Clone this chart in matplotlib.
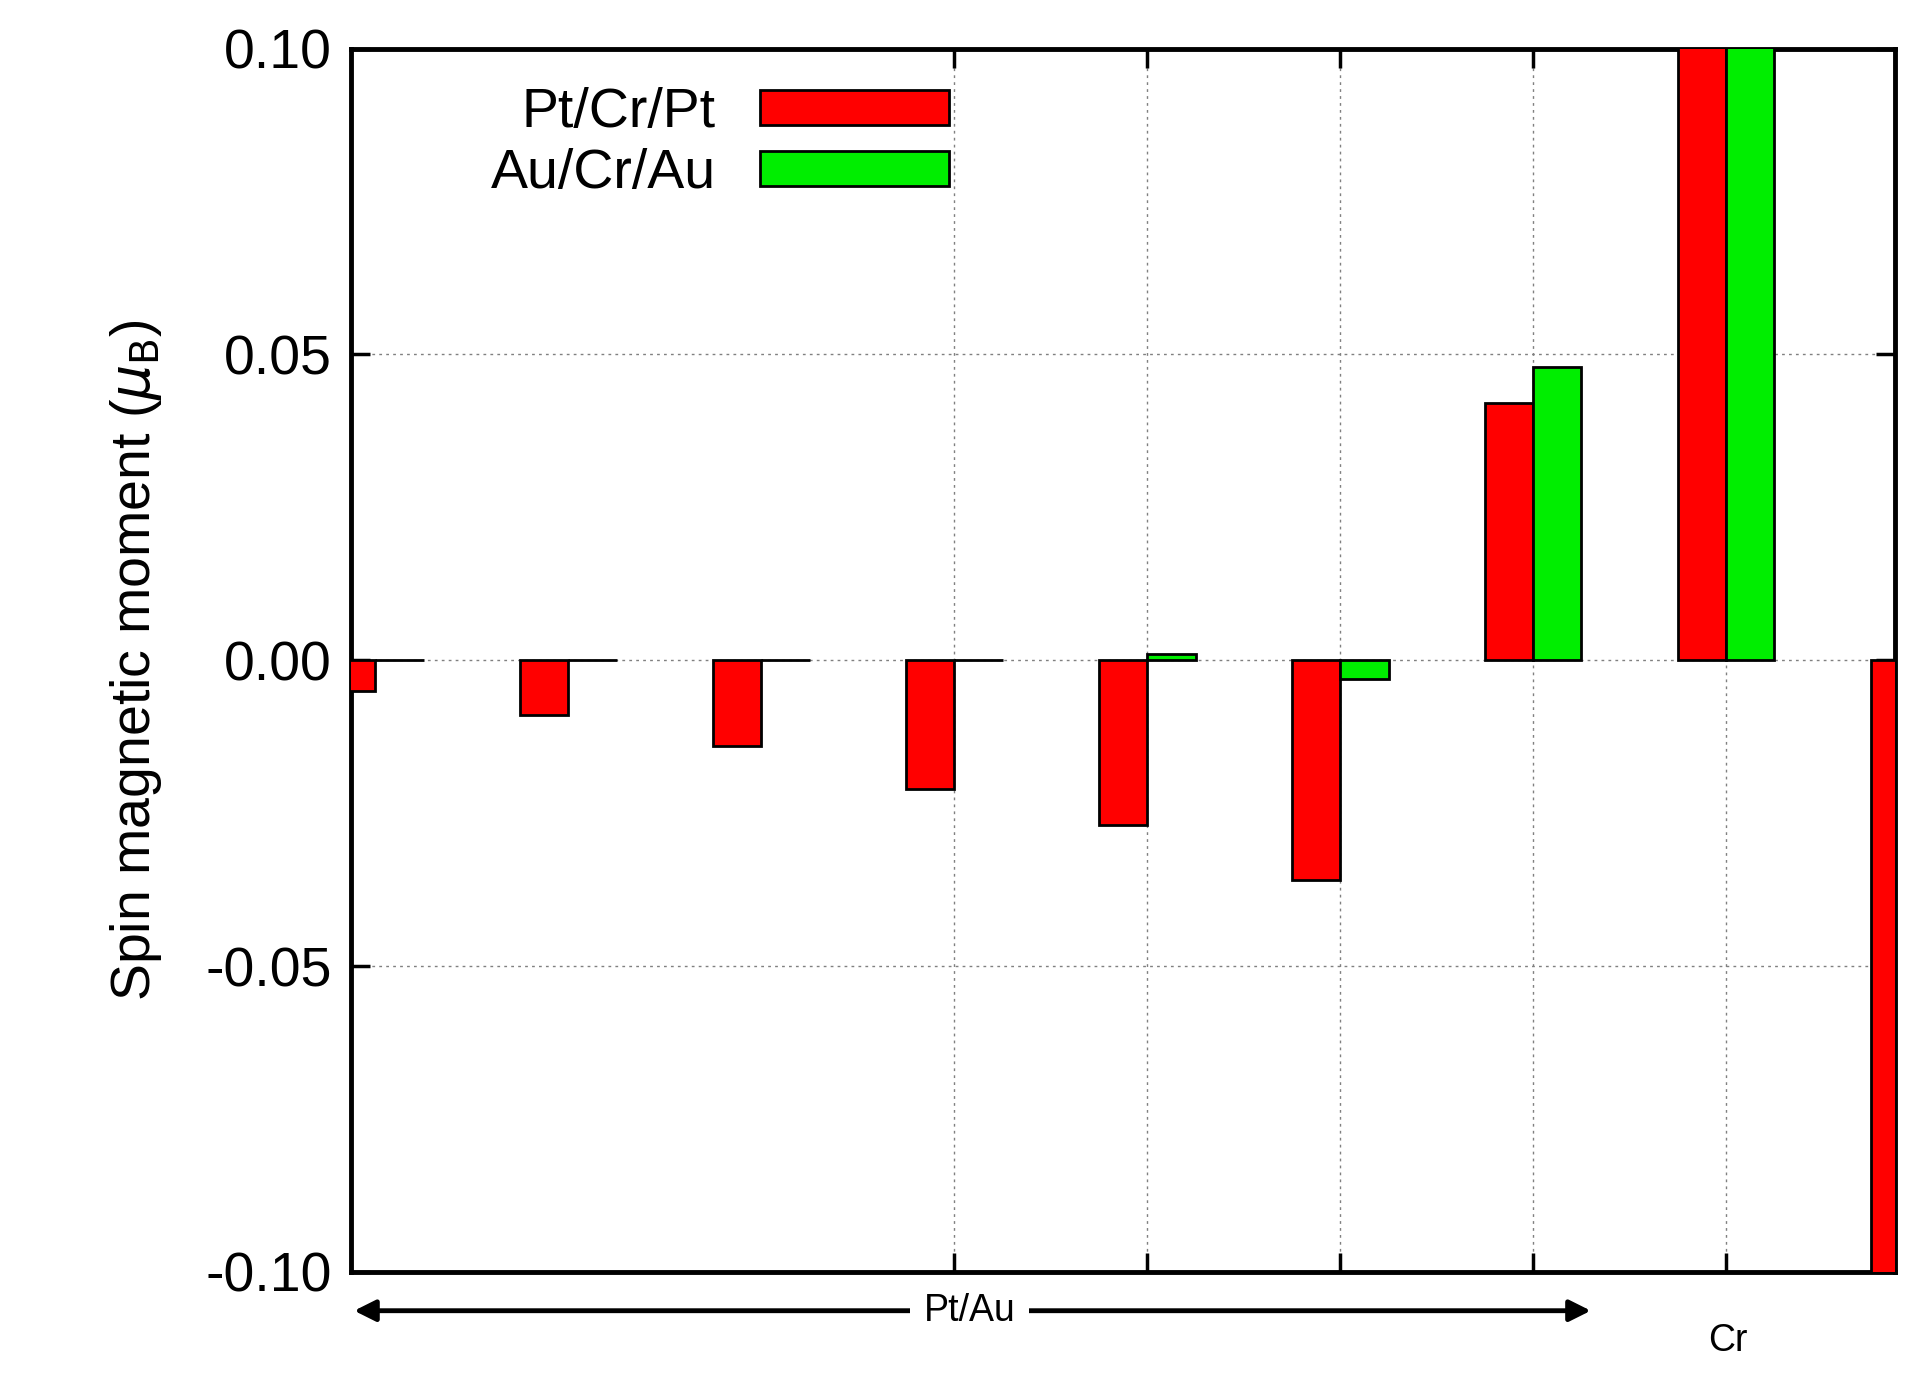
import matplotlib
matplotlib.use("Agg")
import matplotlib.pyplot as plt
import numpy as np

positions = [0, 1, 2, 3, 4, 5, 6, 7, 8]
pt_cr_pt = [-0.005, -0.009, -0.014, -0.021, -0.027, -0.036, 0.042, 0.5, -0.5]
au_cr_au = [0.0, 0.0, 0.0, 0.0, 0.001, -0.003, 0.048, 0.5, 0.0]
yticks = [-0.10, -0.05, 0.00, 0.05, 0.10]
xticks = [3, 4, 5, 6, 7]

plt.rcParams['font.family'] = ['Liberation Sans', 'DejaVu Sans']
fig = plt.figure(figsize=(19.2, 13.87), dpi=100)
ax = fig.add_axes([0.183, 0.083, 0.804, 0.882])
x = np.array(positions, dtype=float)
w = 0.25
ax.bar(x - w/2, pt_cr_pt, w, color='#ff0000', edgecolor='black', linewidth=2, label='Pt/Cr/Pt', zorder=3)
ax.bar(x + w/2, au_cr_au, w, color='#00ee00', edgecolor='black', linewidth=2, label='Au/Cr/Au', zorder=3)
ax.set_xlim(-0.125, 7.875)
ax.set_ylim(-0.1, 0.1)
ax.set_yticks(yticks)
ax.set_yticklabels([f"{v:.2f}" for v in yticks])
ax.set_xticks(xticks)
ax.set_xticklabels([])
ax.grid(True, color='gray', linestyle=(0, (2, 3)), linewidth=1, zorder=0)
ax.tick_params(direction='in', length=14, width=2.5, top=True, right=True, labelsize=40, pad=14)
for s in ax.spines.values():
    s.set_linewidth(3.5)
ax.set_ylabel(r'Spin magnetic moment ($\mu_\mathrm{B}$)', fontsize=40, labelpad=30)
leg = ax.legend(loc='upper left', bbox_to_anchor=(0.065, 1.0), markerfirst=False, frameon=False,
                fontsize=40, handlelength=3.4, handleheight=0.6, labelspacing=0.15, borderaxespad=0.3)
fig.patches.append(matplotlib.patches.FancyArrowPatch((0.183, 0.055), (0.83, 0.055), transform=fig.transFigure,
                   arrowstyle='<|-|>', mutation_scale=32, linewidth=3.5, color='black'))
fig.text(0.505, 0.055, 'Pt/Au', ha='center', va='center', fontsize=27,
         bbox=dict(facecolor='white', edgecolor='none', pad=10))
fig.text(0.9, 0.033, 'Cr', ha='center', va='center', fontsize=27)
fig.savefig('out.png', dpi=100)
